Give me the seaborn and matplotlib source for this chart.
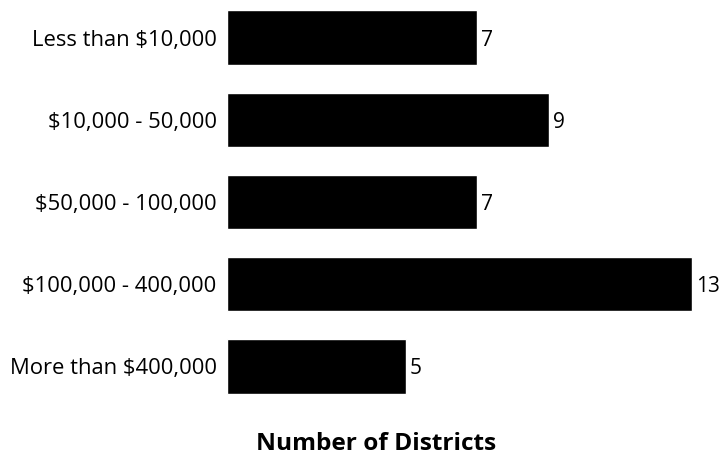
import matplotlib
matplotlib.use("Agg")
import matplotlib.pyplot as plt
import seaborn as sns
import pandas as pd

categories = ["Less than $10,000", "$10,000 - 50,000", "$50,000 - 100,000",
              "$100,000 - 400,000", "More than $400,000"]
districts = [7, 9, 7, 13, 5]
xlabel = "Number of Districts"

sns.set_theme(style="white")
plt.rcParams["font.family"] = ["Open Sans", "DejaVu Sans"]

df = pd.DataFrame({"category": categories, "districts": districts})

fig = plt.figure(figsize=(7.21, 4.57), dpi=100)
ax = fig.add_axes([227 / 721, 0.1081, 0.6698, 0.8998])
sns.barplot(data=df, x="districts", y="category", orient="h", color="black",
            saturation=1, width=0.66, ax=ax)
ax.set_xlim(0, 13.5)
ax.set_ylim(4.5, -0.5)
for s in ax.spines.values():
    s.set_visible(False)
ax.set_xticks([])
ax.set_xlabel("")
ax.set_ylabel("")
ax.tick_params(axis="y", length=0, pad=7.5, labelsize=15.8, labelcolor="black")
for lbl in ax.get_yticklabels():
    lbl.set_va("center_baseline")
for i, v in enumerate(districts):
    ax.annotate(str(v), xy=(v, i), xytext=(2.6, 0), textcoords="offset points",
                ha="left", va="center_baseline", fontsize=15, color="black")
fig.text(376 / 721, (457 - 444) / 457, xlabel, ha="center", va="center",
         fontsize=17.6, fontweight="bold", color="black")
fig.savefig("out.png", dpi=100)
